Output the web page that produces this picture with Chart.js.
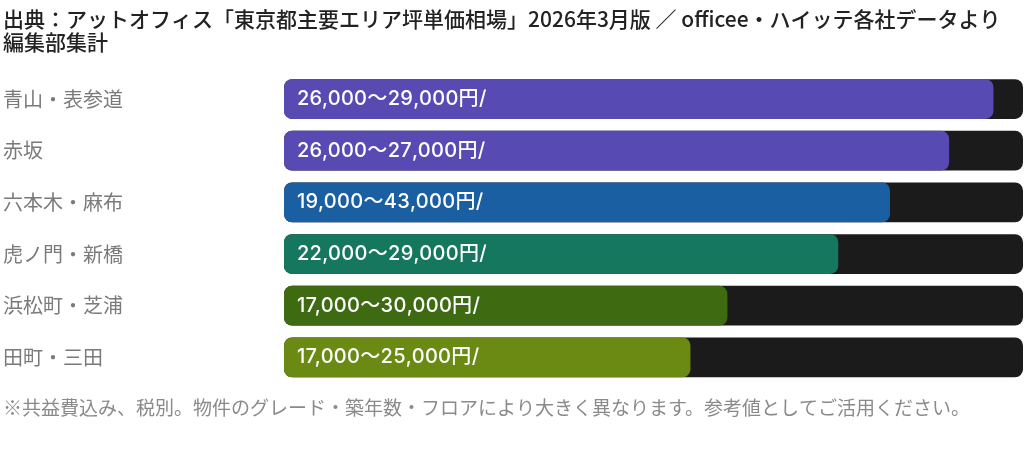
<!DOCTYPE html>
<html lang="ja">
<head>
<meta charset="utf-8">
<title>東京都主要エリア坪単価相場</title>
<script src="https://cdn.jsdelivr.net/npm/chart.js@4.4.1/dist/chart.umd.min.js"></script>
<style>
  html, body { margin: 0; padding: 0; background: #fff; }
  .wrap { width: 1024px; height: 451px; position: relative; }
</style>
</head>
<body>
<div class="wrap">
  <canvas id="priceChart"></canvas>
</div>
<script>
// Dữ liệu - エリア / バー長さ(%) / バー内ラベル
const areas = ["青山・表参道", "赤坂", "六本木・麻布", "虎ノ門・新橋", "浜松町・芝浦", "田町・三田"];
const barValues = [96, 90, 82, 75, 60, 55];
const trackValues = [100, 100, 100, 100, 100, 100];
const priceLabels = [
    "26,000〜29,000円/",
    "26,000〜27,000円/",
    "19,000〜43,000円/",
    "22,000〜29,000円/",
    "17,000〜30,000円/",
    "17,000〜25,000円/"
];
const barColors = ["#574bb3", "#574bb3", "#1b5fa3", "#15775e", "#3e6b12", "#6a8a14"];

const titleLines = [
    "出典：アットオフィス「東京都主要エリア坪単価相場」2026年3月版 ／ officee・ハイッテ各社データより",
    "編集部集計"
];
const footNote = "※共益費込み、税別。物件のグレード・築年数・フロアにより大きく異なります。参考値としてご活用ください。";

const JP_FONT = "'Noto Sans CJK JP', 'Noto Sans', sans-serif";

// Vẽ chữ giá bên trong thanh màu
const barTextPlugin = {
    id: "barText",
    afterDatasetsDraw(chart) {
        const meta = chart.getDatasetMeta(1);
        const ctx = chart.ctx;
        ctx.save();
        ctx.fillStyle = "#ffffff";
        ctx.font = "500 20px Inter, " + JP_FONT;
        ctx.letterSpacing = "0.3px";
        ctx.textAlign = "left";
        ctx.textBaseline = "middle";
        meta.data.forEach((bar, i) => {
            const left = Math.min(bar.base, bar.x);
            ctx.fillText(priceLabels[i], left + 13, bar.y);
        });
        ctx.restore();
    }
};

const ctx = document.getElementById("priceChart").getContext("2d");

new Chart(ctx, {
    type: "bar",
    data: {
        labels: areas,
        datasets: [
            {
                // nền tối phía sau
                label: "track",
                data: trackValues,
                backgroundColor: "#1b1b1b",
                borderRadius: 8,
                borderSkipped: false,
                order: 2
            },
            {
                label: "坪単価",
                data: barValues,
                backgroundColor: barColors,
                borderRadius: 8,
                borderSkipped: false,
                order: 1
            }
        ]
    },
    options: {
        indexAxis: "y",
        responsive: true,
        maintainAspectRatio: false,
        animation: false,
        grouped: false,
        categoryPercentage: 1,
        barPercentage: 0.77,
        layout: {
            padding: { left: 3, right: 1, top: 0, bottom: 0 }
        },
        scales: {
            x: {
                display: false,
                min: 0,
                max: 100
            },
            y: {
                grid: { display: false },
                border: { display: false },
                ticks: {
                    crossAlign: "far",
                    color: "#7a7a7a",
                    font: { family: JP_FONT, size: 20 }
                },
                afterFit: (scale) => { scale.width = 281; }
            }
        },
        plugins: {
            legend: { display: false },
            tooltip: { enabled: false },
            title: {
                display: true,
                text: titleLines,
                align: "start",
                color: "#222222",
                font: { family: JP_FONT, size: 21, weight: "500", lineHeight: 1.1 },
                padding: { top: 7, bottom: 20 }
            },
            subtitle: {
                display: true,
                position: "bottom",
                text: footNote,
                align: "start",
                color: "#8a8a8a",
                font: { family: JP_FONT, size: 19, weight: "normal", lineHeight: 1.2 },
                padding: { top: 13, bottom: 32 }
            }
        }
    },
    plugins: [barTextPlugin]
});
</script>
</body>
</html>
